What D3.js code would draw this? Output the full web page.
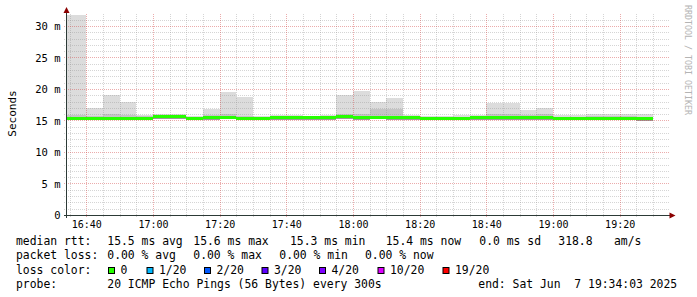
<!DOCTYPE html>
<html>
<head>
<meta charset="utf-8">
<script src="https://cdn.jsdelivr.net/npm/d3@7"></script>
<style>
  body { margin: 0; background: #fff; }
  svg text { font-family: "DejaVu Sans Mono", monospace; white-space: pre; }
</style>
</head>
<body>
<div id="chart"></div>
<script>
// 5 minute bins (start time), values in ms
var binTimes = ["16:30","16:35","16:40","16:45","16:50","16:55","17:00","17:05","17:10","17:15",
  "17:20","17:25","17:30","17:35","17:40","17:45","17:50","17:55","18:00","18:05",
  "18:10","18:15","18:20","18:25","18:30","18:35","18:40","18:45","18:50","18:55",
  "19:00","19:05","19:10","19:15","19:20","19:25"];
var medianMs = [15.37,15.37,15.29,15.33,15.33,15.35,15.56,15.56,15.30,15.40,
  15.53,15.27,15.30,15.45,15.45,15.45,15.45,15.63,15.45,15.48,
  15.45,15.40,15.29,15.29,15.29,15.40,15.45,15.45,15.40,15.40,
  15.30,15.30,15.30,15.35,15.35,15.30];
var maxMs = [31.8,31.8,17.0,19.0,18.0,15.9,16.1,16.1,15.7,16.9,
  19.6,18.8,15.7,15.8,15.8,15.7,15.8,19.0,19.7,18.0,
  18.5,15.8,15.7,15.7,15.8,15.9,17.7,17.7,16.7,17.0,
  15.9,15.9,16.0,16.1,16.1,16.0];
var q3Ms = [15.8,15.8,15.7,16.0,15.9,15.7,15.9,15.9,15.6,15.8,
  16.0,15.7,15.6,15.7,15.7,15.7,15.7,16.0,16.0,16.8,
  16.9,15.7,15.6,15.6,15.6,15.7,16.1,16.1,15.9,16.0,
  15.6,15.6,15.7,15.7,15.7,15.6];
var minMs = [15.05,15.05,15.0,15.05,15.05,15.05,15.25,15.25,15.0,15.1,
  15.2,15.0,15.0,15.15,15.15,15.15,15.15,15.3,15.15,15.2,
  15.15,15.1,15.0,15.0,15.0,15.1,15.15,15.15,15.1,15.1,
  15.0,15.0,15.0,15.05,15.05,14.95];

var yTicks = [0, 5, 10, 15, 20, 25, 30];
var yTickLabels = ["0", "5 m", "10 m", "15 m", "20 m", "25 m", "30 m"];
var xTickLabels = ["16:40","17:00","17:20","17:40","18:00","18:20","18:40","19:00","19:20"];

var lossLabels = ["0", "1/20", "2/20", "3/20", "4/20", "10/20", "19/20"];
var lossColors = ["#26ff00", "#00b8ff", "#0059ff", "#5e00ff", "#7e00ff", "#dd00ff", "#ff0000"];

var parse = d3.timeParse("%Y-%m-%d %H:%M:%S");
var day = "2025-06-07 ";
var tStart = parse(day + "16:34:03"), tEnd = parse(day + "19:34:03");

var width = 697, height = 297;
var plotL = 66.5, plotR = 666.5, plotT = 14, plotB = 215;

var svg = d3.select("#chart").append("svg")
            .attr("width", width)
            .attr("height", height);

var x = d3.scaleTime().domain([tStart, tEnd]).range([plotL, plotR]);
var y = d3.scaleLinear().domain([0, 31.9]).range([plotB, plotT]);

var bins = binTimes.map((t, i) => {
  var t0 = parse(day + t + ":00");
  return { t0: t0, t1: d3.timeMinute.offset(t0, 5), med: medianMs[i], max: maxMs[i], q3: q3Ms[i], min: minMs[i] };
});

svg.append("defs").append("clipPath").attr("id", "plot")
   .append("rect").attr("x", plotL + 0.5).attr("y", 0).attr("width", plotR - plotL).attr("height", plotB);

// smoke
var plot = svg.append("g").attr("clip-path", "url(#plot)").attr("shape-rendering", "crispEdges");
function band(cls, lo, hi, color) {
  plot.selectAll("." + cls).data(bins).enter().append("rect")
      .attr("class", cls)
      .attr("x", d => Math.round(x(d.t0)))
      .attr("width", d => Math.round(x(d.t1)) - Math.round(x(d.t0)))
      .attr("y", d => Math.round(y(hi(d))))
      .attr("height", d => Math.max(0, Math.round(y(lo(d))) - Math.round(y(hi(d)))))
      .attr("fill", color);
}
band("outer", d => d.med, d => d.max, "#dcdcdc");
band("mid", d => d.med, d => d.q3, "#c4c4c4");
band("inner", d => d.min, d => d.med, "#9a9a9a");

// grid (drawn over the smoke like rrdtool does)
var minorCol = "rgba(150,150,150,0.4)", majorCol = "rgba(210,70,70,0.45)";
var grid = svg.append("g").attr("shape-rendering", "crispEdges").attr("stroke-dasharray", "1,1");
var minorT = d3.timeMinute.every(5).range(tStart, tEnd);
grid.selectAll(".vmin").data(minorT.filter(d => d.getMinutes() % 20 != 0))
    .enter().append("line")
    .attr("x1", d => Math.round(x(d)) + 0.5).attr("x2", d => Math.round(x(d)) + 0.5)
    .attr("y1", plotT).attr("y2", plotB + 3)
    .attr("stroke", minorCol);
var hMinor = d3.range(1, 32).filter(v => v % 5 != 0);
grid.selectAll(".hmin").data(hMinor)
    .enter().append("line")
    .attr("x1", plotL - 3).attr("x2", plotR + 3)
    .attr("y1", d => Math.round(y(d)) + 0.5).attr("y2", d => Math.round(y(d)) + 0.5)
    .attr("stroke", minorCol);
grid.selectAll(".vmaj").data(minorT.filter(d => d.getMinutes() % 20 == 0))
    .enter().append("line")
    .attr("x1", d => Math.round(x(d)) + 0.5).attr("x2", d => Math.round(x(d)) + 0.5)
    .attr("y1", plotT).attr("y2", plotB + 3)
    .attr("stroke", majorCol);
grid.selectAll(".hmaj").data(yTicks.slice(1))
    .enter().append("line")
    .attr("x1", plotL - 3).attr("x2", plotR + 3)
    .attr("y1", d => Math.round(y(d)) + 0.5).attr("y2", d => Math.round(y(d)) + 0.5)
    .attr("stroke", majorCol);

// median line, coloured by loss
svg.append("g").attr("clip-path", "url(#plot)").attr("shape-rendering", "crispEdges")
   .selectAll(".med").data(bins).enter().append("rect")
    .attr("x", d => Math.round(x(d.t0)))
    .attr("width", d => Math.round(x(d.t1)) - Math.round(x(d.t0)))
    .attr("y", d => Math.round(y(d.med) - 1.5))
    .attr("height", 3)
    .attr("fill", lossColors[0]);

// axes lines
var axisColor = "#2c3a36";
svg.append("line").attr("x1", plotL - 3).attr("x2", plotR + 5).attr("y1", plotB + 0.5).attr("y2", plotB + 0.5)
   .attr("stroke", axisColor).attr("shape-rendering", "crispEdges");
svg.append("line").attr("x1", plotL).attr("x2", plotL).attr("y1", 12).attr("y2", plotB + 3)
   .attr("stroke", axisColor).attr("shape-rendering", "crispEdges");
svg.append("path").attr("d", "M" + (plotL - 3) + ",13 L" + (plotL + 3) + ",13 L" + plotL + ",7 Z").attr("fill", "#8b0000");
svg.append("path").attr("d", "M" + (plotR + 3) + "," + (plotB - 2.5) + " L" + (plotR + 3) + "," + (plotB + 3.5) + " L" + (plotR + 9) + "," + (plotB + 0.5) + " Z").attr("fill", "#8b0000");

// tick labels
var yAxis = svg.append("g").attr("transform", "translate(" + plotL + ",0)")
  .call(d3.axisLeft(y).tickValues(yTicks).tickSize(0).tickPadding(6).tickFormat((d, i) => yTickLabels[i]));
yAxis.select(".domain").remove();
yAxis.selectAll("text").attr("font-family", "DejaVu Sans Mono").attr("font-size", "10.5px").attr("fill", "#000").attr("dy", "0.36em");

var xTickTimes = xTickLabels.map(t => parse(day + t + ":00"));
var xAxis = svg.append("g").attr("transform", "translate(0," + plotB + ")")
  .call(d3.axisBottom(x).tickValues(xTickTimes).tickSize(0).tickFormat((d, i) => xTickLabels[i]));
xAxis.select(".domain").remove();
xAxis.selectAll("text").attr("font-family", "DejaVu Sans Mono").attr("font-size", "10px").attr("fill", "#000").attr("y", 13).attr("dy", null);

svg.append("text")
   .attr("transform", "translate(16,113.5) rotate(-90)")
   .attr("text-anchor", "middle")
   .attr("font-size", "11px")
   .text("Seconds");

svg.append("text")
   .attr("transform", "translate(685,5) rotate(90)")
   .attr("font-size", "8.2px")
   .attr("fill", "#b4b4b4")
   .attr("textLength", 110)
   .attr("lengthAdjust", "spacingAndGlyphs")
   .text("RRDTOOL / TOBI OETIKER");

// legend
var legend = svg.append("g").attr("font-size", "11.4px").attr("fill", "#000");
var rows = [
  { y: 245, items: [[16, "median rtt:"], [107.3, "15.5 ms avg"], [193.3, "15.6 ms max"], [290, "15.3 ms min"], [385.7, "15.4 ms now"], [479.3, "0.0 ms sd"], [558.3, "318.8"], [614, "am/s"]] },
  { y: 259.3, items: [[16, "packet loss:"], [107.3, "0.00 % avg"], [193.3, "0.00 % max"], [279.3, "0.00 % min"], [365, "0.00 % now"]] },
  { y: 273.7, items: [[16, "loss color:"]] },
  { y: 288, items: [[16, "probe:"], [107.3, "20 ICMP Echo Pings (56 Bytes) every 300s"], [478.3, "end: Sat Jun  7 19:34:03 2025"]] }
];
rows.forEach(r => {
  r.items.forEach(it => {
    legend.append("text").attr("x", it[0]).attr("y", r.y).text(it[1]);
  });
});
var boxX = [108.5, 147, 204.5, 262, 319.5, 378, 443];
lossLabels.forEach((l, i) => {
  legend.append("rect").attr("x", boxX[i]).attr("y", 267.5).attr("width", 6).attr("height", 6)
        .attr("fill", lossColors[i]).attr("stroke", "#000").attr("stroke-width", 1);
  legend.append("text").attr("x", boxX[i] + 12).attr("y", 273.7).text(l);
});
</script>
</body>
</html>
